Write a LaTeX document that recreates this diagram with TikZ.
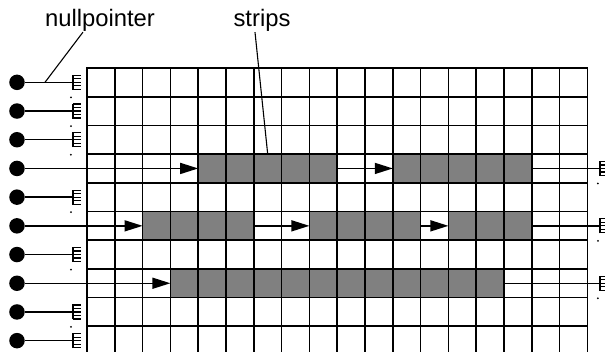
\documentclass[tikz,border=0pt]{standalone}
\usepackage{fontspec}
\setmainfont{Liberation Sans}
\usetikzlibrary{arrows.meta, positioning}
\tikzset{
  gridline/.style={line width=1.7pt, draw=black, line cap=rect},
  stripbox/.style={fill=gray, inner sep=0pt, outer sep=0pt, minimum height=28.7pt, anchor=north west},
  dotnode/.style={circle, fill=black, minimum size=15.5pt, inner sep=0pt},
  link/.style={line width=1.5pt},
  tickline/.style={line width=1.2pt},
  arrow/.style={link, -{Triangle[length=18pt, width=11pt]}},
  leader/.style={line width=1.1pt},
  tagtext/.style={font=\fontsize{23.8}{28}\selectfont, inner sep=0pt, anchor=base}
}
% nullpointer symbol at a coordinate
\newcommand{\nullsym}[1]{%
  \draw[link] ([yshift=-7.5pt]#1) -- ([yshift=7.5pt]#1);
  \foreach \k in {-7,-3.5,0,3.5,7} \draw[tickline] ([yshift=\k pt]#1) -- ++(8pt,0);
  \fill ([xshift=-2pt,yshift=-15pt]#1) circle (1pt);
}

\begin{document}
\begin{tikzpicture}[x=27.8pt, y=-28.7pt]
\clip (-3.129,-2.369) rectangle (18.633,9.861);

% strips
\node[stripbox, minimum width=5*27.8pt] (a1) at (4,3) {};
\node[stripbox, minimum width=5*27.8pt] (a2) at (11,3) {};
\node[stripbox, minimum width=4*27.8pt] (b1) at (2,5) {};
\node[stripbox, minimum width=4*27.8pt] (b2) at (8,5) {};
\node[stripbox, minimum width=3*27.8pt] (b3) at (13,5) {};
\node[stripbox, minimum width=12*27.8pt] (c1) at (3,7) {};

% grid
\foreach \c in {0,...,18} \draw[gridline] (\c,0) -- (\c,10);
\foreach \r in {0,...,10} \draw[gridline] (0,\r) -- (18,\r);

% row heads
\foreach \r in {0,...,9} \node[dotnode] (d\r) at (-2.518,\r+0.5) {};
\foreach \r in {0,1,2,4,6,8,9} {
  \coordinate (n\r) at (-0.504,\r+0.5);
  \draw[link] (d\r) -- (n\r);
  \nullsym{n\r}
}

% chains
\coordinate (r3) at (18.45,3.5);
\coordinate (r5) at (18.45,5.5);
\coordinate (r7) at (18.45,7.5);
\draw[arrow] (d3) -- (a1.west);
\draw[arrow] (a1.east) -- (a2.west);
\draw[link] (a2.east) -- (r3);
\draw[arrow] (d5) -- (b1.west);
\draw[arrow] (b1.east) -- (b2.west);
\draw[arrow] (b2.east) -- (b3.west);
\draw[link] (b3.east) -- (r5);
\draw[arrow] (d7) -- (c1.west);
\draw[link] (c1.east) -- (r7);
\nullsym{r3}
\nullsym{r5}
\nullsym{r7}

% labels
\node[tagtext] (nptxt) at (0.468,-1.429) {nullpointer};
\node[tagtext] (sttxt) at (6.295,-1.429) {strips};
\coordinate (np) at (-1.511,0.5);
\draw[leader] ([xshift=-17pt]nptxt.south) -- (np);
\draw[leader] ([xshift=-7pt]sttxt.south) -- (a1.north);
\end{tikzpicture}
\end{document}
